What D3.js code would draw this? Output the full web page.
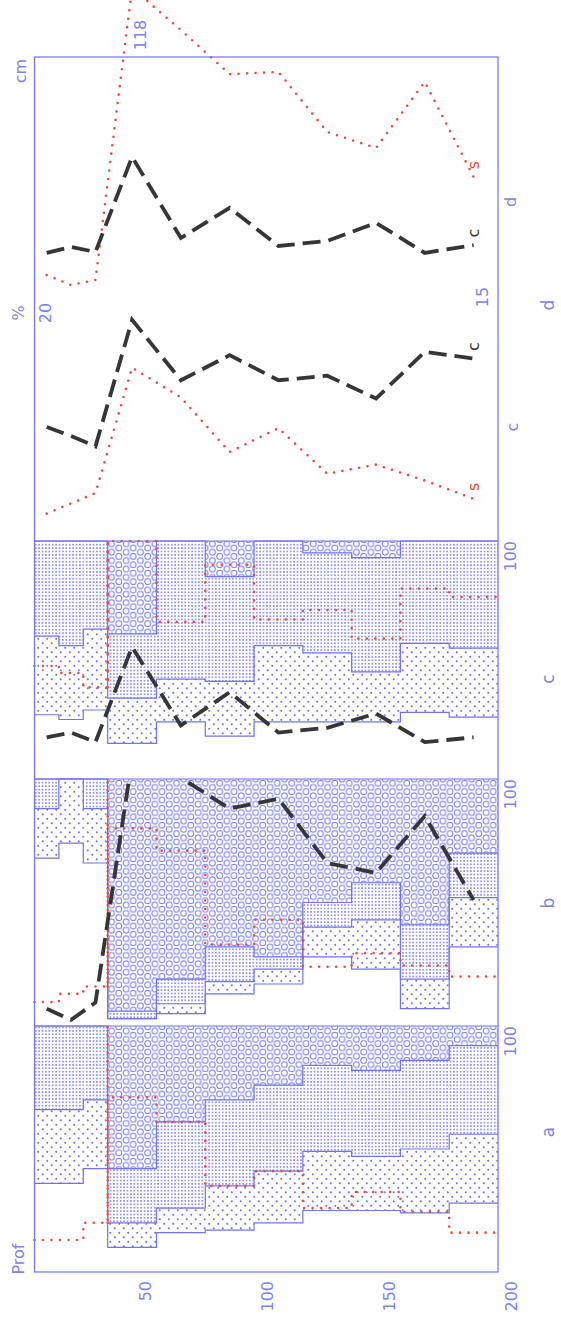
<!DOCTYPE html>
<html>
<head>
<meta charset="utf-8">
<script src="https://cdn.jsdelivr.net/npm/d3@7"></script>
<style>
  body { margin: 0; background: #fff; }
  svg { display: block; }
</style>
</head>
<body>
<div id="chart"></div>
<script>
// ── Canvas: the figure is drawn upright, then turned a quarter turn left
const W = 561, H = 1325;

// ── Data: soil layers (cm)
const depthTop    = [0, 10, 20, 30, 50, 70,  90, 110, 130, 150, 170];
const depthBottom = [10, 20, 30, 50, 70, 90, 110, 130, 150, 170, 190];
const depthTicks  = [50, 100, 150, 200];
const classes     = ['white', 'dots', 'grid', 'circles'];

// panel a — fractions in %
const aWhite   = [36, 36, 42, 10, 16, 17, 20, 25, 25, 24, 28];
const aDots    = [30, 30, 28, 10, 10, 18, 21, 24, 22, 26, 28];
const aGrid    = [34, 34, 30, 22, 35, 35, 35, 35, 35, 36, 36];
const aCircles = [ 0,  0,  0, 58, 39, 30, 24, 16, 18, 14,  8];
const aRed     = [13, 13, 20, 71, 61, 35, 41, 26, 32.5, 24.5, 16];

// panel b
const bWhite   = [68, 74, 66,  3,  5, 13, 17, 28, 23,  7, 32];
const bDots    = [20, 26, 22,  0,  4,  5,  6, 12, 20, 12, 20];
const bGrid    = [12,  0, 12,  3, 10, 14,  5, 10, 15, 22, 18];
const bCircles = [ 0,  0,  0, 94, 81, 68, 72, 50, 42, 59, 30];
const bRed     = [9.7, 13, 16, 80, 71, 33, 43, 24, 29.5, 24.5, 20];
const bDash    = [7, 2.5, 9.5, 108, 100.5, 88, 92, 66, 62, 85, 51];

// panel c
const cWhite   = [27, 25, 29, 15, 24, 18, 24, 24, 24, 28, 26];
const cDots    = [33, 31, 34, 19, 18, 23, 32, 29, 21, 29, 29];
const cGrid    = [40, 44, 37, 27, 58, 44, 44, 42, 48, 43, 45];
const cCircles = [ 0,  0,  0, 39,  0, 15,  0,  5,  7,  0,  0];
const cRed     = [47.5, 44.5, 38.5, 100, 66, 90, 67, 71, 59, 80, 76.5];
const cDash    = [17.5, 19.5, 15.5, 55.5, 22.5, 36.5, 19.5, 21.5, 27.5, 15.5, 17.5];

// panel d — lower plot (%), upper plot (cm)
const dLowC = [10.0, 9.2, 8.3, 19.4, 14.1, 16.3, 14.1, 14.5, 12.5, 16.6, 16.0];
const dLowS = [2.4, 3.3, 4.2, 15.2, 12.6, 7.8, 9.9, 5.9, 6.7, 5.3, 3.7];
const dUpC  = [29.7, 31.7, 30.0, 61.7, 34.7, 44.7, 32.0, 33.7, 39.7, 29.7, 32.3];
const dUpS  = [22.3, 19.0, 20.7, 118, 104, 89.3, 90.0, 70.0, 64.7, 86.7, 55.0];
const refDepth = 30;

// ── Styles
const BLUE = '#6f74ee', TEXT_BLUE = '#7d83ee', RED = '#ee4a40', DARK = '#363636';
const FONT = '"DejaVu Sans", Arial, sans-serif';

const svg = d3.select('#chart').append('svg')
  .attr('width', W).attr('height', H)
  .style('background', '#fff');

// ── Fill patterns
const defs = svg.append('defs');

const pDots = defs.append('pattern').attr('id', 'pat-dots')
  .attr('patternUnits', 'userSpaceOnUse').attr('width', 9).attr('height', 9);
pDots.append('circle').attr('cx', 2.2).attr('cy', 2.2).attr('r', 1.05).attr('fill', BLUE);
pDots.append('circle').attr('cx', 6.7).attr('cy', 6.7).attr('r', 1.05).attr('fill', BLUE);

const pGrid = defs.append('pattern').attr('id', 'pat-grid')
  .attr('patternUnits', 'userSpaceOnUse').attr('width', 3.4).attr('height', 3.4);
pGrid.append('circle').attr('cx', 1.7).attr('cy', 1.7).attr('r', 0.95).attr('fill', '#7a7eee');

const pCirc = defs.append('pattern').attr('id', 'pat-circles')
  .attr('patternUnits', 'userSpaceOnUse').attr('width', 8.4).attr('height', 14.4);
[[4.2, 3.6], [0, 10.8], [8.4, 10.8]].forEach(([cx, cy]) => {
  pCirc.append('circle').attr('cx', cx).attr('cy', cy).attr('r', 2.9)
    .attr('fill', 'none').attr('stroke', BLUE).attr('stroke-width', 1.0);
});

const FILLS = { white: 'none', dots: 'url(#pat-dots)', grid: 'url(#pat-grid)', circles: 'url(#pat-circles)' };

// ── Upright figure group: (u, v) -> image (v, H - u)
const g = svg.append('g').attr('transform', `translate(0,${H}) rotate(-90)`);

const depth = d3.scaleLinear().domain([0, 190]).range([34.5, 498]);
const mid = i => (depthTop[i] + depthBottom[i]) / 2;

// panel extents along u
const PA = [53, 299], PB = [299, 546], PC = [546, 784], PD = [784, 1268];

const xA = d3.scaleLinear().domain([0, 100]).range(PA);
const xB = d3.scaleLinear().domain([0, 100]).range(PB);
const xC = d3.scaleLinear().domain([0, 100]).range(PC);
const xLow = d3.scaleLinear().domain([0, 20]).range([784, 1012]);
const xUp  = d3.scaleLinear().domain([15, 95]).range([1028, 1268]);

const stepLine = d3.line().x(d => d[0]).y(d => d[1]);
const stepPoints = (vals, xs) => vals.flatMap((v, i) => [
  [xs(v), depth(depthTop[i])], [xs(v), depth(depthBottom[i])]
]);
const midPoints = (vals, xs) => vals.map((v, i) => [xs(v), depth(mid(i))]);

function drawRed(sel, pts) {
  sel.append('path').attr('d', stepLine(pts))
    .attr('fill', 'none').attr('stroke', RED).attr('stroke-width', 2.6)
    .attr('stroke-linecap', 'round').attr('stroke-dasharray', '0 8.5');
}
function drawDash(sel, pts) {
  sel.append('path').attr('d', stepLine(pts))
    .attr('fill', 'none').attr('stroke', DARK).attr('stroke-width', 3.8)
    .attr('stroke-dasharray', '18 8');
}

// ── Stacked composition panels a, b, c
const panels = [
  { cols: [aWhite, aDots, aGrid, aCircles], red: aRed, xs: xA },
  { cols: [bWhite, bDots, bGrid, bCircles], red: bRed, xs: xB },
  { cols: [cWhite, cDots, cGrid, cCircles], red: cRed, xs: xC },
];

panels.forEach(p => {
  const rows = depthTop.map((t, i) => {
    const r = {};
    classes.forEach((k, j) => { r[k] = p.cols[j][i]; });
    return r;
  });
  const series = d3.stack().keys(classes)(rows);
  const pg = g.append('g');

  series.forEach(s => {
    pg.selectAll(null).data(s).enter().append('rect')
      .attr('x', d => p.xs(d[0]))
      .attr('width', d => p.xs(d[1]) - p.xs(d[0]))
      .attr('y', (d, i) => depth(depthTop[i]))
      .attr('height', (d, i) => depth(depthBottom[i]) - depth(depthTop[i]))
      .attr('fill', FILLS[s.key]);
  });

  // class boundaries as stepped outlines
  series.slice(0, 3).forEach(s => {
    pg.append('path')
      .attr('d', stepLine(stepPoints(s.map(d => d[1]), p.xs)))
      .attr('fill', 'none').attr('stroke', BLUE).attr('stroke-width', 1.2);
  });

  drawRed(pg, stepPoints(p.red, p.xs));
  const i3 = depthTop.indexOf(refDepth) - 1;
  drawRed(pg, [[p.xs(p.red[i3]), depth(refDepth)], [p.xs(100), depth(refDepth)]]);
});

// dashed overlays in panels b and c
g.append('clipPath').attr('id', 'clip-b').append('rect')
  .attr('x', PB[0]).attr('y', depth(0)).attr('width', PB[1] - PB[0]).attr('height', depth(190) - depth(0));
drawDash(g.append('g').attr('clip-path', 'url(#clip-b)'), midPoints(bDash, xB));
drawDash(g, midPoints(cDash, xC));

// ── Panel d line plots
drawRed(g, midPoints(dLowS, xLow));
drawDash(g, midPoints(dLowC, xLow));
drawRed(g, midPoints(dUpS, xUp));
drawDash(g, midPoints(dUpC, xUp));

// ── Frame
const frame = g.append('g').attr('fill', 'none').attr('stroke', BLUE).attr('stroke-width', 1.2);
frame.append('rect').attr('x', PA[0]).attr('y', depth(0))
  .attr('width', PD[1] - PA[0]).attr('height', depth(190) - depth(0));
[PB[0], PC[0], PD[0]].forEach(u => {
  frame.append('line').attr('x1', u).attr('x2', u).attr('y1', depth(0)).attr('y2', depth(190));
});

// ── Depth axis
const axis = g.append('g').attr('transform', 'translate(44,0)')
  .call(d3.axisLeft(depth).tickValues(depthTicks).tickSize(0).tickPadding(0));
axis.select('.domain').remove();
axis.selectAll('text')
  .attr('dy', '-0.36em')
  .attr('fill', TEXT_BLUE).attr('font-size', '16px').attr('font-family', FONT);

// ── Texts
function label(txt, u, v, color, anchor, size) {
  g.append('text').attr('x', u).attr('y', v).attr('dy', '0.35em')
    .attr('text-anchor', anchor || 'middle')
    .attr('fill', color || TEXT_BLUE)
    .attr('font-size', (size || 16) + 'px').attr('font-family', FONT)
    .text(txt);
}

label('Prof', 66, 18);
[xA, xB, xC].forEach(xs => label('100', xs(100), 510, TEXT_BLUE, 'end'));
label('a', 193, 548, TEXT_BLUE, 'middle', 17);
label('b', 422, 548, TEXT_BLUE, 'middle', 17);
label('c', 646, 548, TEXT_BLUE, 'middle', 17);
label('d', 1020, 548, TEXT_BLUE, 'middle', 17);

label('%', xLow(20), 18);
label('20', xLow(20), 45);
label('c', 898, 512);
label('15', xUp(15), 482);
label('d', 1123, 510);
label('cm', 1254, 20);
label(String(d3.max(dUpS)), 1290, 140);

const last = depthTop.length - 1;
label('s', xLow(dLowS[last]) + 12, depth(mid(last)), RED);
label('c', xLow(dLowC[last]) + 12, depth(mid(last)), DARK);
label('s', xUp(dUpS[last]) + 12, depth(mid(last)), RED);
label('c', xUp(dUpC[last]) + 12, depth(mid(last)), DARK);
</script>
</body>
</html>
